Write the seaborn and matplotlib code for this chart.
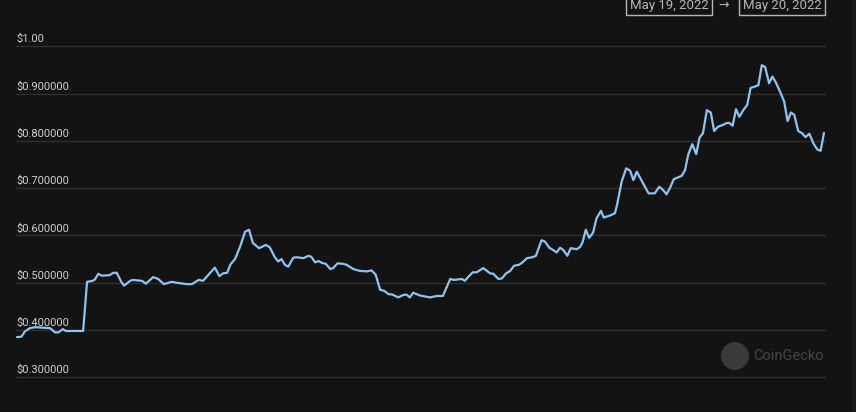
import matplotlib
matplotlib.use("Agg")
import matplotlib.pyplot as plt
import matplotlib.patches as mpatches
import seaborn as sns
import pandas as pd

# minutes after midnight, May 19 2022, and price in USD
minutes = [0, 8, 14, 23, 32, 59, 68, 74, 82, 87, 118, 125, 135, 139, 145, 151, 165, 172, 178, 186,
           191, 202, 206, 223, 230, 243, 252, 262, 276, 285, 303, 312, 324, 332, 353, 361, 368, 375, 381, 389,
           398, 407, 414, 421, 432, 444, 451, 460, 466, 472, 478, 484, 493, 499, 511, 520, 525, 532, 538, 544,
           551, 559, 564, 572, 582, 588, 600, 612, 624, 633, 640, 648, 655, 663, 670, 680, 689, 695, 701, 707,
           719, 737, 749, 760, 773, 780, 794, 799, 805, 813, 820, 832, 844, 850, 859, 865, 873, 880, 887, 896,
           902, 910, 920, 926, 936, 942, 950, 957, 963, 969, 975, 982, 988, 999, 1005, 1009, 1015, 1021, 1028, 1034,
           1042, 1047, 1058, 1067, 1071, 1079, 1087, 1094, 1100, 1106, 1115, 1127, 1138, 1146, 1153, 1159, 1165, 1172, 1182, 1186,
           1192, 1198, 1205, 1212, 1218, 1224, 1231, 1238, 1244, 1251, 1260, 1267, 1271, 1277, 1283, 1289, 1296, 1303, 1309, 1317,
           1323, 1329, 1335, 1342, 1348, 1354, 1362, 1369, 1375, 1381, 1387, 1394, 1401, 1407, 1414, 1421, 1428, 1434, 1440]
price = [0.385, 0.386, 0.397, 0.404, 0.406, 0.404, 0.395, 0.395, 0.402, 0.398, 0.398, 0.502, 0.504, 0.507, 0.519, 0.515, 0.516, 0.521, 0.521, 0.502,
         0.494, 0.504, 0.506, 0.504, 0.498, 0.512, 0.508, 0.497, 0.502, 0.500, 0.497, 0.497, 0.506, 0.504, 0.532, 0.514, 0.520, 0.521, 0.539, 0.550,
         0.576, 0.608, 0.612, 0.584, 0.573, 0.580, 0.575, 0.554, 0.545, 0.550, 0.538, 0.534, 0.553, 0.554, 0.552, 0.557, 0.555, 0.543, 0.546, 0.542,
         0.540, 0.529, 0.531, 0.541, 0.540, 0.538, 0.529, 0.525, 0.524, 0.526, 0.517, 0.485, 0.483, 0.476, 0.475, 0.469, 0.474, 0.475, 0.469, 0.479,
         0.473, 0.469, 0.472, 0.472, 0.508, 0.506, 0.508, 0.504, 0.512, 0.522, 0.522, 0.531, 0.520, 0.519, 0.508, 0.509, 0.520, 0.525, 0.536, 0.538,
         0.543, 0.552, 0.554, 0.557, 0.590, 0.587, 0.574, 0.569, 0.564, 0.574, 0.569, 0.557, 0.573, 0.571, 0.576, 0.585, 0.612, 0.595, 0.606, 0.636,
         0.652, 0.638, 0.642, 0.647, 0.666, 0.714, 0.742, 0.737, 0.717, 0.735, 0.715, 0.689, 0.689, 0.703, 0.696, 0.687, 0.700, 0.719, 0.724, 0.726,
         0.738, 0.772, 0.793, 0.772, 0.807, 0.816, 0.865, 0.860, 0.821, 0.830, 0.834, 0.838, 0.838, 0.832, 0.867, 0.851, 0.865, 0.876, 0.912, 0.915,
         0.918, 0.960, 0.956, 0.922, 0.936, 0.924, 0.903, 0.883, 0.842, 0.860, 0.855, 0.821, 0.816, 0.808, 0.815, 0.795, 0.782, 0.779, 0.817]

tick_values = [0.3, 0.4, 0.5, 0.6, 0.7, 0.8, 0.9, 1.0]
tick_labels = ["$0.300000", "$0.400000", "$0.500000", "$0.600000",
               "$0.700000", "$0.800000", "$0.900000", "$1.00"]
start_date = "May 19, 2022"
end_date = "May 20, 2022"

bg = "#131313"
sns.set_style("dark")
plt.rcParams["font.family"] = ["Roboto", "DejaVu Sans"]

df = pd.DataFrame({"minute": minutes, "price": price})

fig = plt.figure(figsize=(8.56, 4.12), dpi=100, facecolor=bg)
ax = fig.add_axes([16 / 856, 17 / 412, 810 / 856, 365 / 412])
ax.set_facecolor(bg)

sns.lineplot(data=df, x="minute", y="price", ax=ax, color="#8ec4f3", linewidth=1.6)

ax.set_xlim(-1.8, 1443.6)
ax.set_ylim(0.2626, 1.0345)
ax.set_xticks([])
ax.set_yticks([])
ax.set_xlabel("")
ax.set_ylabel("")
for s in ax.spines.values():
    s.set_visible(False)

# grid lines with labels sitting just above them
for v, lab in zip(tick_values, tick_labels):
    ax.axhline(v, color="#2e2e2e", linewidth=1, zorder=0)
    ax.text(0.0, v + 0.004, lab, transform=ax.get_yaxis_transform(),
            ha="left", va="bottom", fontsize=8, color="#d0d0d0")

# date range boxes at the top
box = dict(boxstyle="square,pad=0.25", facecolor=bg, edgecolor="#b5b5b5", linewidth=1)
fig.text(669 / 856, 1 - 5 / 412, start_date, ha="center", va="center",
         fontsize=9.5, color="#b5b5b5", bbox=box)
fig.text(724 / 856, 1 - 5 / 412, "→", ha="center", va="center",
         fontsize=9, color="#b5b5b5", family=["DejaVu Sans"])
fig.text(782 / 856, 1 - 5 / 412, end_date, ha="center", va="center",
         fontsize=9.5, color="#b5b5b5", bbox=box)

# watermark
fig.add_artist(mpatches.Circle((7.35, 0.56), 0.14, transform=fig.dpi_scale_trans,
                               facecolor="#3a3a3a", edgecolor="none"))
fig.text(753 / 856, 56 / 412, "CoinGecko", ha="left", va="center",
         fontsize=10.5, color="#444444")

# thin lighter strip on the right edge
fig.add_artist(mpatches.Rectangle((852 / 856, 0), 4 / 856, 1, transform=fig.transFigure,
                                  facecolor="#1a1a1a", edgecolor="none"))

fig.savefig("out.png", dpi=100, facecolor=bg)
